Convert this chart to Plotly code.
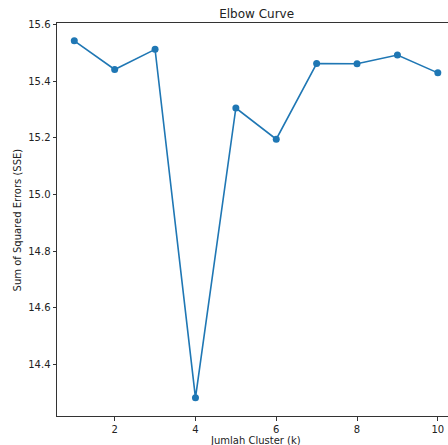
import plotly.graph_objects as go

k_values = [1, 2, 3, 4, 5, 6, 7, 8, 9, 10]
sse_values = [15.542, 15.441, 15.512, 14.282, 15.305, 15.195, 15.462, 15.461, 15.492, 15.429]
x_ticks = [2, 4, 6, 8, 10]
y_ticks = [14.4, 14.6, 14.8, 15.0, 15.2, 15.4, 15.6]

W, H = 448, 445
L, R, T, B = 57.3, 0, 23.3, 29.3
pw = W - L - R
ph = H - T - B

fig = go.Figure()
fig.add_trace(go.Scatter(
    x=k_values, y=sse_values, mode="lines+markers",
    line=dict(color="#1f77b4", width=1.6),
    marker=dict(color="#1f77b4", size=7),
    showlegend=False,
))

font = dict(family="DejaVu Sans", size=10, color="#222")
axis_common = dict(
    showline=True, linecolor="#333", linewidth=1,
    ticks="outside", ticklen=3.5, tickwidth=1, tickcolor="#333",
    showgrid=False, zeroline=False, tickfont=font,
)
fig.update_layout(
    width=W, height=H,
    margin=dict(l=L, r=R, t=T, b=B, pad=0),
    plot_bgcolor="white", paper_bgcolor="white",
    xaxis=dict(range=[0.572, 10.252], tickvals=x_ticks,
               ticktext=[str(v) for v in x_ticks], mirror=True, **axis_common),
    yaxis=dict(range=[14.218, 15.605], tickvals=y_ticks,
               ticktext=[f"{v:.1f}" for v in y_ticks], **axis_common),
    title=dict(text="Elbow Curve", xref="container", yref="container",
               x=256.6 / W, y=1 - 14 / H, xanchor="center", yanchor="middle",
               font=dict(family="DejaVu Sans", size=12, color="#222")),
    annotations=[
        dict(text="Jumlah Cluster (k)", xref="paper", yref="paper",
             x=(255.5 - L) / pw, y=-(440 - (T + ph)) / ph,
             xanchor="center", yanchor="middle", showarrow=False, font=font),
        dict(text="Sum of Squared Errors (SSE)", xref="paper", yref="paper",
             x=(18.3 - L) / pw, y=0.5, textangle=-90,
             xanchor="center", yanchor="middle", showarrow=False, font=font),
    ],
)
fig.write_html(
    "out.html",
    config={"displayModeBar": False},
    post_script="document.body.style.margin='0';document.body.style.overflow='hidden';",
)
